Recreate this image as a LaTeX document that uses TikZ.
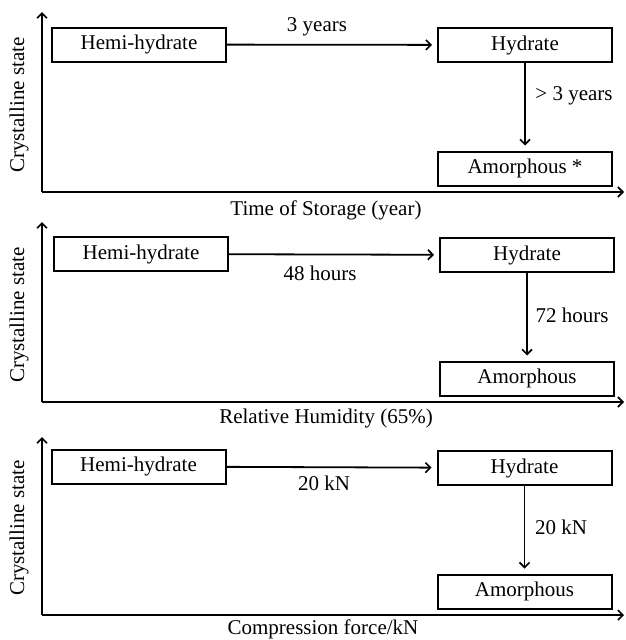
\documentclass[tikz,border=0pt]{standalone}
\usepackage{fontspec}
\setmainfont{Liberation Serif}
\usetikzlibrary{arrows.meta}
\begin{document}
\begin{tikzpicture}[x=1pt,y=-1pt,
  font=\fontsize{21}{24}\selectfont,
  axis/.style={line width=2.2pt,-{Straight Barb[length=5pt,width=10pt,line width=1.6pt]}},
  state/.style={draw,line width=2pt,minimum width=174pt,minimum height=34pt,inner sep=0pt},
  conn/.style={line width=1.8pt,-{Straight Barb[length=5pt,width=10pt,line width=1.6pt]},shorten >=5pt},
  lbl/.style={inner sep=0pt}]
\useasboundingbox (0,0) rectangle (625,640);
% ---------- panel 1 ----------
\coordinate (o1) at (42,192);
\coordinate (t1) at (42,12);
\coordinate (r1) at (624,192);
\draw[axis] (o1) -- (t1);
\draw[axis] (o1) -- (r1);
\node[lbl,rotate=90] (ys1) at (19,105) {Crystalline state};
\node[lbl] (xl1) at (326,210) {Time of Storage (year)};
\node[state] (h1) at (139,44.5) {Hemi-hydrate};
\node[state] (d1) at (525,45) {Hydrate};
\node[state] (a1) at (525,168.5) {Amorphous *};
\draw[conn] (h1) -- (d1);
\draw[conn] (d1) -- (a1);
\node[lbl] (l1a) at (317,27) {3 years};
\node[lbl] (l1b) at (574,96) {> 3 years};
% ---------- panel 2 ----------
\coordinate (o2) at (42,402);
\coordinate (t2) at (42,222);
\coordinate (r2) at (624,402);
\draw[axis] (o2) -- (t2);
\draw[axis] (o2) -- (r2);
\node[lbl,rotate=90] (ys2) at (19,315) {Crystalline state};
\node[lbl] (xl2) at (326,418) {Relative Humidity (65\%)};
\node[state] (h2) at (141,254) {Hemi-hydrate};
\node[state] (d2) at (527,255) {Hydrate};
\node[state] (a2) at (527,378.5) {Amorphous};
\draw[conn] (h2) -- (d2);
\draw[conn] (d2) -- (a2);
\node[lbl] (l2a) at (320,273) {48 hours};
\node[lbl] (l2b) at (572,315) {72 hours};
% ---------- panel 3 ----------
\coordinate (o3) at (42,615);
\coordinate (t3) at (42,437);
\coordinate (r3) at (624,615);
\draw[axis] (o3) -- (t3);
\draw[axis] (o3) -- (r3);
\node[lbl,rotate=90] (ys3) at (19,528) {Crystalline state};
\node[lbl] (xl3) at (323,629) {Compression force/kN};
\node[state] (h3) at (138.5,466.5) {Hemi-hydrate};
\node[state] (d3) at (524.5,468) {Hydrate};
\node[state] (a3) at (524.5,591.5) {Amorphous};
\draw[conn] (h3) -- (d3);
\draw[conn] (d3) -- (a3);
\node[lbl] (l3a) at (324,483) {20 kN};
\node[lbl] (l3b) at (561,527) {20 kN};
\end{tikzpicture}
\end{document}
